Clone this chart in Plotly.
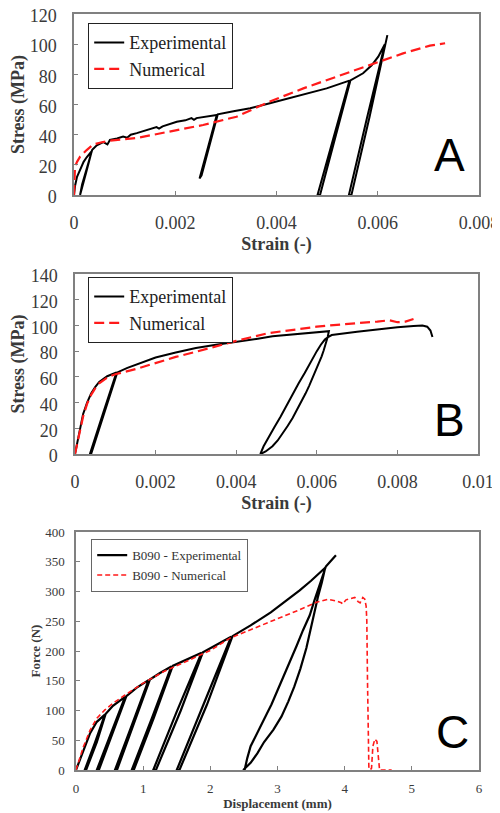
import plotly.graph_objects as go

# ---------------- Panel A ----------------
A_exp_strain = [0, 0.00002, 0.00006, 0.00012, 0.00019, 0.00025, 0.00031, 0.00035,
                0.00024, 0.00012, 0.00016, 0.00026, 0.00036,
                0.00045, 0.00058, 0.00066, 0.00071, 0.00085, 0.00097, 0.00105, 0.00112, 0.00124,
                0.00145, 0.00163, 0.00168, 0.00175, 0.00203, 0.0022, 0.00232, 0.00237, 0.00242, 0.00262, 0.00282,
                0.00265, 0.00248, 0.00252, 0.00268, 0.00284,
                0.00315, 0.00348, 0.00387, 0.00407, 0.00453, 0.00499, 0.00544,
                0.00512, 0.00481, 0.00486, 0.00516, 0.00546,
                0.00571, 0.00588, 0.00601, 0.00614,
                0.00578, 0.00543, 0.00548, 0.00584, 0.00619]
A_exp_stress = [0, 6, 12, 17, 22, 25, 27.5, 29,
                15, 0, 7, 18, 30,
                33, 35, 33.5, 36.5, 37.5, 38.7, 38, 40, 41,
                43, 45, 44, 45.5, 48.6, 49.5, 51, 49.8, 51, 52, 53,
                32, 11, 13, 34, 53.5,
                55.5, 57.5, 60.8, 62.5, 66.3, 70.7, 75.8,
                38, 0, 0, 38, 76,
                80.7, 86, 91.7, 100,
                50, 0, 0, 52, 106]

A_num_strain = [0, 0.00001, 0.00002, 0.00006, 0.00012, 0.00025, 0.00038, 0.00055, 0.00071, 0.00124,
                0.0019, 0.00255, 0.00321, 0.00387, 0.00453, 0.00519, 0.00585, 0.0065, 0.00703, 0.00733]
A_num_stress = [0, 10, 18.8, 22, 25.4, 29.8, 33.5, 35, 36, 37.8,
                42, 46.4, 51.9, 62, 70.7, 78.4, 86, 93.9, 99, 100.6]

# ---------------- Panel B ----------------
B_exp_strain = [0, 0.00005, 0.0001, 0.00015, 0.0002, 0.0003, 0.0004, 0.0005, 0.0006, 0.0008, 0.00103,
                0.0007, 0.00037, 0.0004, 0.00073, 0.00105,
                0.0013, 0.0016, 0.002, 0.0025, 0.003, 0.0035, 0.004, 0.0045, 0.0049, 0.0055, 0.006, 0.0063,
                0.00627, 0.00622, 0.00617, 0.00612, 0.00605, 0.00598, 0.0059, 0.00581, 0.00572, 0.00562,
                0.00551, 0.0054, 0.00528, 0.00516, 0.00503, 0.0049, 0.00481, 0.00473, 0.00466, 0.0046,
                0.00468, 0.0048, 0.00495, 0.0051, 0.00525, 0.0054, 0.00555, 0.0057, 0.0058, 0.0059,
                0.006, 0.0061, 0.0062, 0.00628, 0.00637,
                0.007, 0.0075, 0.008, 0.0084, 0.00862, 0.00874, 0.00882, 0.00887]
B_exp_stress = [0, 8, 16, 24, 31, 40, 47, 52, 56, 60.5, 63.5,
                32, 0, 0, 32, 63.5,
                67, 70.5, 75, 79, 82.5, 85, 87, 89.5, 91.5, 93, 94.5, 95.5,
                91, 85, 80.5, 76, 70.5, 65, 59, 53, 47, 41,
                34.5, 28, 22, 16, 10.5, 6, 3.5, 2, 0.8, 0,
                6, 13, 21, 29, 38, 46, 55, 63, 69, 75,
                80, 85, 89, 91, 92.5,
                95, 97, 98.5, 99.5, 100, 99, 96, 91]

B_num_strain = [0, 0.00005, 0.0001, 0.0002, 0.0003, 0.0004, 0.0005, 0.0006, 0.0008, 0.001,
                0.0015, 0.002, 0.0025, 0.003, 0.0035, 0.004, 0.0048, 0.0055, 0.006, 0.0065,
                0.007, 0.0075, 0.0078, 0.008, 0.0082, 0.0084]
B_num_stress = [0, 8, 15, 29, 39, 46, 51, 55, 59.5, 62,
                66, 71, 75.5, 79.5, 84, 88, 94, 97, 99, 100.5,
                101.5, 103, 104, 102.5, 103, 105]

# ---------------- Panel C ----------------
C_exp_disp = [0, 0.05, 0.11, 0.21, 0.31, 0.43,
              0.28, 0.13, 0.15, 0.31, 0.44,
              0.55, 0.73,
              0.52, 0.31, 0.34, 0.55, 0.75,
              0.9, 1.08,
              0.83, 0.58, 0.61, 0.86, 1.1,
              1.25, 1.42,
              1.13, 0.83, 0.86, 1.16, 1.44,
              1.65, 1.87,
              1.5, 1.15, 1.19, 1.56, 1.89,
              2.1, 2.31,
              1.88, 1.5, 1.54, 1.95, 2.33,
              2.6, 2.9, 3.1, 3.33, 3.5, 3.71,
              3.66, 3.6, 3.52, 3.43, 3.34, 3.25, 3.16, 3.06, 2.94, 2.8, 2.7, 2.6, 2.49,
              2.51, 2.55, 2.6, 2.68, 2.75, 2.83, 2.91, 3.0, 3.1, 3.2, 3.29, 3.38, 3.48, 3.55, 3.62, 3.67, 3.72,
              3.8, 3.87]
C_exp_force = [0, 15, 34, 62, 81, 93,
               45, 0, 0, 47, 94,
               108, 123,
               60, 0, 0, 62, 124,
               138, 151,
               75, 0, 0, 77, 152,
               163, 174,
               87, 0, 0, 88, 175,
               186, 197,
               98, 0, 0, 100, 198,
               211, 224,
               105, 0, 0, 110, 225,
               243, 265, 282, 302, 318, 340,
               315, 290, 250, 205, 170, 140, 115, 90, 68, 47, 28, 12, 0,
               0, 20, 40, 58, 75, 92, 110, 133, 160, 185, 210, 235, 260, 285, 310, 328, 342,
               352, 361]

C_num_disp = [0, 0.05, 0.11, 0.21, 0.31, 0.43, 0.55, 0.73, 1.0, 1.3, 1.6, 2.0, 2.3, 2.59, 2.89,
              3.09, 3.3, 3.48, 3.58, 3.75, 3.88, 3.95, 3.97, 4.02, 4.1, 4.15, 4.2, 4.23, 4.27,
              4.3, 4.32, 4.33, 4.34, 4.35, 4.36, 4.38, 4.4, 4.42, 4.45, 4.48, 4.5, 4.52, 4.7]
C_num_force = [0, 18, 39, 67, 87, 101, 112, 126, 146, 165, 181, 201, 222, 235, 249,
               258, 268, 277, 282, 287, 284, 281, 279, 286, 289, 290, 283, 281, 290,
               287, 275, 250, 150, 50, 5, 0, 3, 40, 52, 48, 20, 0, 0]

A_xticks = [0, 0.002, 0.004, 0.006, 0.008]
A_xtext = ["0", "0.002", "0.004", "0.006", "0.008"]
A_yticks = [0, 20, 40, 60, 80, 100, 120]
B_xticks = [0, 0.002, 0.004, 0.006, 0.008, 0.01]
B_xtext = ["0", "0.002", "0.004", "0.006", "0.008", "0.01"]
B_yticks = [0, 20, 40, 60, 80, 100, 120, 140]
C_xticks = [0, 1, 2, 3, 4, 5, 6]
C_yticks = [0, 50, 100, 150, 200, 250, 300, 350, 400]

# The page body has an 8px margin; the figure is sized so it ends at the window edge.
OFF = 8
W, H = 500 - OFF, 813 - OFF
SERIF = "Liberation Serif"
FRAME = "#808080"
TXT = "#3a3a3a"
RED = "#ff1a1a"

fig = go.Figure()

def add(x, y, name, color, dash, width, xa, ya, legend):
    fig.add_trace(go.Scatter(x=x, y=y, mode="lines", name=name,
                             line=dict(color=color, dash=dash, width=width),
                             xaxis=xa, yaxis=ya, legend=legend))

add(A_exp_strain, A_exp_stress, "Experimental", "black", "solid", 2, "x", "y", "legend")
add(A_num_strain, A_num_stress, "Numerical", RED, "10px,5px", 2.2, "x", "y", "legend")
add(B_exp_strain, B_exp_stress, "Experimental", "black", "solid", 2, "x2", "y2", "legend2")
add(B_num_strain, B_num_stress, "Numerical", RED, "10px,5px", 2.2, "x2", "y2", "legend2")
add(C_exp_disp, C_exp_force, "B090 - Experimental", "black", "solid", 2.2, "x3", "y3", "legend3")
add(C_num_disp, C_num_force, "B090 - Numerical", RED, "5px,3px", 1.6, "x3", "y3", "legend3")

def PX(x):
    return (x - OFF) / W

def PY(y):
    return 1 - (y - OFF) / H

def ax(domain, anchor, rng, tv, tt, title, fs, tfs, tstand, lstand, shift=0):
    return dict(domain=domain, anchor=anchor, range=rng, tickvals=tv, ticktext=tt,
                showgrid=False, zeroline=False, showline=True, mirror=True,
                linecolor=FRAME, linewidth=1.5, ticks="inside", ticklen=4,
                tickcolor=FRAME, tickwidth=1, automargin=False,
                ticklabelstandoff=lstand, ticklabeloverflow="allow",
                ticklabelshift=shift,
                tickfont=dict(family=SERIF, size=fs, color=TXT),
                title=dict(text=title, standoff=tstand,
                           font=dict(family=SERIF, size=tfs, color=TXT)))

fig.update_layout(
    width=W, height=H, margin=dict(l=0, r=0, t=0, b=0),
    paper_bgcolor="white", plot_bgcolor="white",
    xaxis=ax([PX(74), PX(479)], "y", [0, 0.008], A_xticks, A_xtext, "<b>Strain (-)</b>", 18, 18, 5, 11),
    yaxis=ax([PY(195), PY(14)], "x", [0, 120], A_yticks, [str(v) for v in A_yticks], "<b>Stress (MPa)</b>", 18, 18, 3, 12, 2),
    xaxis2=ax([PX(75), PX(478)], "y2", [0, 0.01], B_xticks, B_xtext, "<b>Strain (-)</b>", 18, 18, 5, 11),
    yaxis2=ax([PY(454), PY(274)], "x2", [0, 140], B_yticks, [str(v) for v in B_yticks], "<b>Stress (MPa)</b>", 18, 18, 3, 12, 2),
    xaxis3=ax([PX(76), PX(479)], "y3", [0, 6], C_xticks, [str(v) for v in C_xticks], "<b>Displacement (mm)</b>", 13, 13, 2, 6),
    yaxis3=ax([PY(770), PY(532)], "x3", [0, 400], C_yticks, [str(v) for v in C_yticks], "<b>Force (N)</b>", 13, 13, 2, 7),
    legend=dict(x=PX(88), y=PY(23), xanchor="left", yanchor="top",
                bordercolor="#222222", borderwidth=1.2, bgcolor="white",
                font=dict(family=SERIF, size=18, color="#222222")),
    legend2=dict(x=PX(88), y=PY(277), xanchor="left", yanchor="top",
                 bordercolor="#222222", borderwidth=1.2, bgcolor="white",
                 font=dict(family=SERIF, size=18, color="#222222")),
    legend3=dict(x=PX(91), y=PY(539), xanchor="left", yanchor="top",
                 bordercolor="#666666", borderwidth=1.2, bgcolor="white",
                 font=dict(family=SERIF, size=13, color="#333333")),
    showlegend=True,
)

for letter, x, y in [("A", 449, 155), ("B", 449, 420), ("C", 452, 732)]:
    fig.add_annotation(text=letter, x=PX(x), y=PY(y), xref="paper", yref="paper",
                       showarrow=False, xanchor="center", yanchor="middle",
                       font=dict(family="Liberation Sans", size=46, color="black"))

fig.write_html("out.html")
